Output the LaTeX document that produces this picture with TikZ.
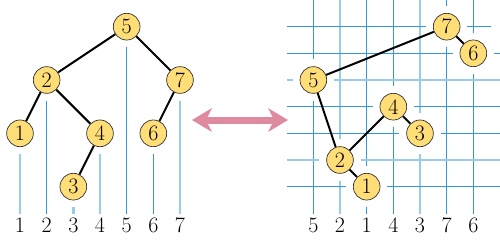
\documentclass[tikz,border=0pt]{standalone}
\usepackage{tikz}
\usetikzlibrary{arrows.meta}

\definecolor{keyfill}{RGB}{255,221,119}
\definecolor{gridblue}{RGB}{51,153,221}
\definecolor{gridpale}{RGB}{153,204,230}
\definecolor{swappink}{RGB}{222,138,160}

\begin{document}
\begin{tikzpicture}[
    x=26.667pt, y=-26.667pt,
    key/.style={circle, draw=black!80, line width=0.7pt, fill=keyfill,
                minimum size=26.7pt, inner sep=0pt,
                font=\fontsize{22}{26}\selectfont},
    lab/.style={inner sep=0pt, font=\fontsize{22}{26}\selectfont},
    guide/.style={draw=gridblue, line width=1.1pt},
    guidepale/.style={draw=gridpale, line width=2.8pt},
    gapin/.style={shorten >=7pt},
    gapout/.style={shorten <=7pt},
    gaplab/.style={shorten <=7pt, shorten >=4pt},
    link/.style={draw=black, line width=2pt},
    dblarr/.style={{Stealth[length=20pt, width=24pt, inset=6pt, line width=0pt]}-{Stealth[length=20pt, width=24pt, inset=6pt, line width=0pt]},
                   line width=7pt, draw=swappink},
]
    \useasboundingbox (0,0) rectangle (18.75,9);

    % Left tree
    \node[key] (a5) at (4.75,1) {5};
    \node[key] (a2) at (1.75,3) {2};
    \node[key] (a7) at (6.75,3) {7};
    \node[key] (a1) at (0.75,5) {1};
    \node[key] (a4) at (3.75,5) {4};
    \node[key] (a6) at (5.75,5) {6};
    \node[key] (a3) at (2.75,7) {3};

    % Left labels
    \node[lab] (la1) at (0.75,8.45) {1};
    \node[lab] (la2) at (1.75,8.45) {2};
    \node[lab] (la3) at (2.75,8.45) {3};
    \node[lab] (la4) at (3.75,8.45) {4};
    \node[lab] (la5) at (4.75,8.45) {5};
    \node[lab] (la6) at (5.75,8.45) {6};
    \node[lab] (la7) at (6.75,8.45) {7};

    % Left guide lines
    \draw[guidepale, gaplab] (a1) -- (la1);
    \draw[guide, gaplab] (a2) -- (la2);
    \draw[guidepale, gaplab] (a3) -- (la3);
    \draw[guidepale, gaplab] (a4) -- (la4);
    \draw[guide, gaplab] (a5) -- (la5);
    \draw[guide, gaplab] (a6) -- (la6);
    \draw[guidepale, gaplab] (a7) -- (la7);

    % Left edges
    \draw[link] (a5) -- (a2);
    \draw[link] (a5) -- (a7);
    \draw[link] (a2) -- (a1);
    \draw[link] (a2) -- (a4);
    \draw[link] (a4) -- (a3);
    \draw[link] (a7) -- (a6);

    % Swap arrow
    \coordinate (sw1) at (7.2,4.5);
    \coordinate (sw2) at (10.8,4.5);
    \draw[dblarr] (sw1) -- (sw2);

    % Right grid
    \node[key] (b5) at (11.75,3) {5};
    \node[key] (b2) at (12.75,6) {2};
    \node[key] (b1) at (13.75,7) {1};
    \node[key] (b4) at (14.75,4) {4};
    \node[key] (b3) at (15.75,5) {3};
    \node[key] (b7) at (16.75,1) {7};
    \node[key] (b6) at (17.75,2) {6};

    % Right labels
    \node[lab] (lb5) at (11.75,8.45) {5};
    \node[lab] (lb2) at (12.75,8.45) {2};
    \node[lab] (lb1) at (13.75,8.45) {1};
    \node[lab] (lb4) at (14.75,8.45) {4};
    \node[lab] (lb3) at (15.75,8.45) {3};
    \node[lab] (lb7) at (16.75,8.45) {7};
    \node[lab] (lb6) at (17.75,8.45) {6};

    % Column tops
    \coordinate (tb5) at (11.75,0);
    \coordinate (tb2) at (12.75,0);
    \coordinate (tb1) at (13.75,0);
    \coordinate (tb4) at (14.75,0);
    \coordinate (tb3) at (15.75,0);
    \coordinate (tb7) at (16.75,0);
    \coordinate (tb6) at (17.75,0);

    % Row ends
    \coordinate (rl7) at (10.75,1);  \coordinate (rr7) at (18.4,1);
    \coordinate (rl6) at (10.75,2);  \coordinate (rr6) at (18.75,2);
    \coordinate (rl5) at (10.75,3);  \coordinate (rr5) at (18.75,3);
    \coordinate (rl4) at (10.75,4);  \coordinate (rr4) at (18.75,4);
    \coordinate (rl3) at (10.75,5);  \coordinate (rr3) at (18.75,5);
    \coordinate (rl2) at (10.75,6);  \coordinate (rr2) at (18.75,6);
    \coordinate (rl1) at (10.75,7);  \coordinate (rr1) at (18.75,7);

    % Columns
    \draw[guide, gapin] (tb5) -- (b5);      \draw[guide, gaplab] (b5) -- (lb5);
    \draw[guidepale, gapin] (tb2) -- (b2);  \draw[guidepale, gaplab] (b2) -- (lb2);
    \draw[guide, gapin] (tb1) -- (b1);      \draw[guide, gaplab] (b1) -- (lb1);
    \draw[guide, gapin] (tb4) -- (b4);      \draw[guide, gaplab] (b4) -- (lb4);
    \draw[guidepale, gapin] (tb3) -- (b3);  \draw[guidepale, gaplab] (b3) -- (lb3);
    \draw[guide, gapin] (tb7) -- (b7);      \draw[guide, gaplab] (b7) -- (lb7);
    \draw[guide, gapin] (tb6) -- (b6);      \draw[guide, gaplab] (b6) -- (lb6);

    % Rows
    \draw[guide, gapin] (rl7) -- (b7);      \draw[guide, gapout] (b7) -- (rr7);
    \draw[guide, gapin] (rl6) -- (b6);      \draw[guide, gapout] (b6) -- (rr6);
    \draw[guidepale, gapin] (rl5) -- (b5);  \draw[guidepale, gapout] (b5) -- (rr5);
    \draw[guide, gapin] (rl4) -- (b4);      \draw[guide, gapout] (b4) -- (rr4);
    \draw[guide, gapin] (rl3) -- (b3);      \draw[guide, gapout] (b3) -- (rr3);
    \draw[guidepale, gapin] (rl2) -- (b2);  \draw[guidepale, gapout] (b2) -- (rr2);
    \draw[guide, gapin] (rl1) -- (b1);      \draw[guide, gapout] (b1) -- (rr1);

    % Right edges
    \draw[link] (b7) -- (b5);
    \draw[link] (b7) -- (b6);
    \draw[link] (b5) -- (b2);
    \draw[link] (b2) -- (b4);
    \draw[link] (b4) -- (b3);
    \draw[link] (b2) -- (b1);
\end{tikzpicture}
\end{document}
